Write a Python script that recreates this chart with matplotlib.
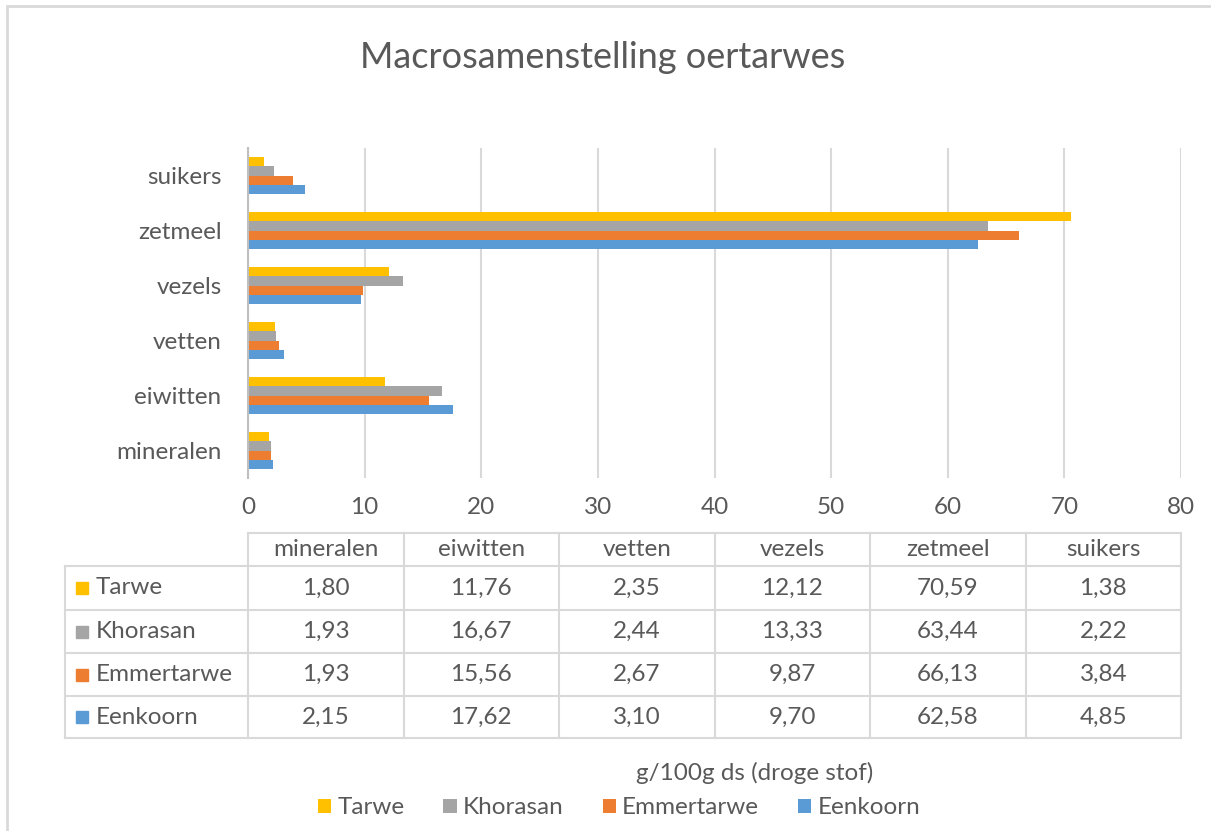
import matplotlib.pyplot as plt
from matplotlib.patches import Rectangle
import numpy as np

plt.rcParams['font.family'] = ['Lato', 'DejaVu Sans']

categories = ['mineralen', 'eiwitten', 'vetten', 'vezels', 'zetmeel', 'suikers']
series = ['Tarwe', 'Khorasan', 'Emmertarwe', 'Eenkoorn']
tarwe = [1.80, 11.76, 2.35, 12.12, 70.59, 1.38]
khorasan = [1.93, 16.67, 2.44, 13.33, 63.44, 2.22]
emmertarwe = [1.93, 15.56, 2.67, 9.87, 66.13, 3.84]
eenkoorn = [2.15, 17.62, 3.10, 9.70, 62.58, 4.85]
values = [tarwe, khorasan, emmertarwe, eenkoorn]
colors = ['#FFC000', '#A5A5A5', '#ED7D31', '#5B9BD5']

txt = '#595959'
grid = '#D9D9D9'
fs = 17.5
W, H = 1211, 831

fig = plt.figure(figsize=(W / 100, H / 100), dpi=100)

# light frame around the chart area (only top/left visible in screenshot)
fig.patches.append(Rectangle((7 / W, -0.1), 1.2, 1 - 6 / H + 0.1, transform=fig.transFigure,
                             fill=False, edgecolor='#D9D9D9', linewidth=2))

ax = fig.add_axes([248 / W, 1 - 478 / H, (1181 - 248) / W, (478 - 148) / H])

y = np.arange(len(categories))
bh = 0.17
for i, (name, vals) in enumerate(zip(series, values)):
    off = (1.5 - i) * bh
    ax.barh(y + off, vals, height=bh, color=colors[i], label=name, zorder=3)

ax.set_xlim(0, 80)
ax.set_ylim(-0.5, len(categories) - 0.5)
ax.set_xticks(range(0, 81, 10))
ax.set_yticks(y)
ax.set_yticklabels(categories)
ax.tick_params(length=0, labelsize=fs, labelcolor=txt)
ax.tick_params(axis='x', pad=14)
ax.tick_params(axis='y', pad=19)
ax.grid(axis='x', color=grid, linewidth=1.5, zorder=0)
for s in ['top', 'right', 'bottom']:
    ax.spines[s].set_visible(False)
ax.spines['left'].set_color('#BFBFBF')
ax.spines['left'].set_linewidth(1.5)
ax.spines['left'].set_zorder(4)

fig.text(603 / W, 1 - 57 / H, 'Macrosamenstelling oertarwes', ha='center', va='center',
         fontsize=26, color=txt)

# data table below the axis
tab = fig.add_axes([65 / W, 1 - 738 / H, (1181 - 65) / W, (738 - 533) / H])
unit = (1181 - 248) / 80
tab.set_xlim(-(248 - 65) / unit, 80)
tab.set_ylim(738, 533)
tab.axis('off')
row_edges = [533, 566, 610, 653, 696, 738]
colw = 80 / len(categories)
lw = 1.5
# header row
tab.plot([0, 80], [533, 533], color=grid, lw=lw, clip_on=False)
for j, c in enumerate(categories):
    tab.text((j + 0.5) * colw, (533 + 566) / 2, c, ha='center', va='center', fontsize=fs, color=txt)
for j in range(len(categories) + 1):
    tab.plot([j * colw, j * colw], [533, 738], color=grid, lw=lw, clip_on=False)
x0 = tab.get_xlim()[0]
for k in range(1, len(row_edges)):
    tab.plot([x0, 80], [row_edges[k], row_edges[k]], color=grid, lw=lw, clip_on=False)
tab.plot([x0, x0], [566, 738], color=grid, lw=lw, clip_on=False)
for i, (name, vals) in enumerate(zip(series, values)):
    yc = (row_edges[i + 1] + row_edges[i + 2]) / 2
    tab.plot(x0 + 17 / unit, yc, marker='s', markersize=9, color=colors[i], clip_on=False)
    tab.text(x0 + 31 / unit, yc, name, ha='left', va='center', fontsize=fs, color=txt)
    for j, v in enumerate(vals):
        tab.text((j + 0.5) * colw, yc, f'{v:.2f}'.replace('.', ','), ha='center', va='center',
                 fontsize=fs, color=txt)

fig.text(755 / W, 1 - 773 / H, 'g/100g ds (droge stof)', ha='center', va='center',
         fontsize=fs, color=txt)

handles, labels = ax.get_legend_handles_labels()
fig.legend(handles, labels, loc='center', bbox_to_anchor=(619 / W, 1 - 808 / H), ncol=4,
           frameon=False, fontsize=fs, labelcolor=txt, handlelength=0.55, handleheight=0.55,
           handletextpad=0.25, columnspacing=1.6)

fig.savefig('out.png', dpi=100)
